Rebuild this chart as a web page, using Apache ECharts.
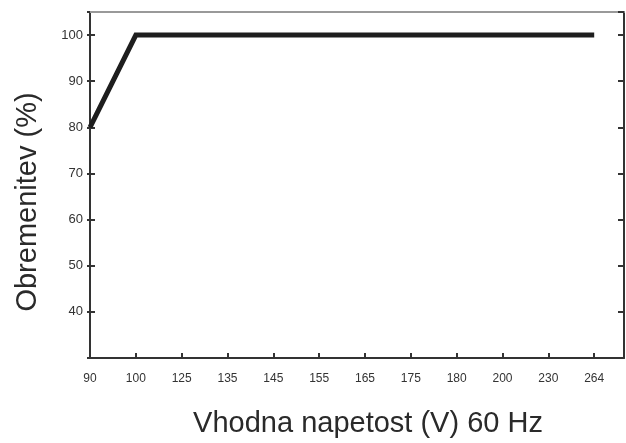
<!DOCTYPE html>
<html>
<head>
<meta charset="UTF-8">
<title>Obremenitev</title>
<script src="https://cdn.jsdelivr.net/npm/echarts@6/dist/echarts.min.js"></script>
<style>
  html, body { margin: 0; padding: 0; background: #fff; }
  #chart { width: 626px; height: 443px; }
</style>
</head>
<body>
<div id="chart"></div>
<script>
  // napetost (V) - kategorije na osi x
  const voltages = ['90', '100', '125', '135', '145', '155', '165', '175', '180', '200', '230', '264'];
  // obremenitev (%) na tockah krivulje: [indeks kategorije, vrednost]
  const curveIdx = [0, 1, 11];
  const curveLoad = [80, 100, 100];

  const chart = echarts.init(document.getElementById('chart'));
  const tickFont = { fontFamily: "'Liberation Sans Narrow', 'Liberation Sans', sans-serif", color: '#333' };
  const titleFont = { fontFamily: "'Liberation Sans', Arial, sans-serif", fontSize: 29, color: '#2a2a2a' };

  chart.setOption({
    animation: false,
    grid: { left: 90, right: 2, top: 12, bottom: 85, outerBoundsMode: 'none', containLabel: false },
    xAxis: [{
      type: 'value',
      min: 0,
      max: 11.65,
      interval: 1,
      name: 'Vhodna napetost (V) 60 Hz',
      nameLocation: 'middle',
      nameGap: 51,
      nameTextStyle: { ...titleFont, padding: [0, 0, 0, 22] },
      axisLine: { show: true, onZero: false, lineStyle: { color: '#333', width: 2 } },
      axisTick: { show: true, inside: true, length: 5, lineStyle: { color: '#333', width: 2 } },
      axisLabel: { ...tickFont, fontSize: 12, margin: 15, showMaxLabel: false,
        formatter: v => voltages[Math.round(v)] ?? '' },
      splitLine: { show: false }
    }, {
      type: 'value',
      position: 'top',
      min: 0,
      max: 11.65,
      axisLine: { show: true, onZero: false, lineStyle: { color: '#999', width: 2 } },
      axisTick: { show: false },
      axisLabel: { show: false },
      splitLine: { show: false }
    }],
    yAxis: [{
      type: 'value',
      min: 30,
      max: 105,
      interval: 10,
      name: 'Obremenitev (%)',
      nameLocation: 'middle',
      nameGap: 48,
      nameTextStyle: { ...titleFont, padding: [0, 34, 0, 0] },
      axisLine: { show: true, onZero: false, lineStyle: { color: '#333', width: 2 } },
      axisTick: { show: true, inside: true, length: 5, lineStyle: { color: '#333', width: 2 } },
      axisLabel: { ...tickFont, fontSize: 13, margin: 7, showMinLabel: false, showMaxLabel: false },
      splitLine: { show: false }
    }, {
      type: 'value',
      position: 'left',
      min: 30,
      max: 105,
      interval: 10,
      axisLine: { show: false, onZero: false },
      axisTick: { show: true, inside: false, length: 3, lineStyle: { color: '#333', width: 2 } },
      axisLabel: { show: false },
      splitLine: { show: false }
    }, {
      type: 'value',
      position: 'right',
      min: 30,
      max: 105,
      interval: 10,
      axisLine: { show: true, onZero: false, lineStyle: { color: '#333', width: 2 } },
      axisTick: { show: true, inside: true, length: 6, lineStyle: { color: '#333', width: 2 } },
      axisLabel: { show: false },
      splitLine: { show: false }
    }],
    series: [{
      type: 'line',
      xAxisIndex: 0,
      yAxisIndex: 0,
      data: curveIdx.map((x, i) => [x, curveLoad[i]]),
      showSymbol: false,
      lineStyle: { color: '#1e1e1e', width: 5, cap: 'butt', join: 'miter' }
    }]
  });
</script>
</body>
</html>
